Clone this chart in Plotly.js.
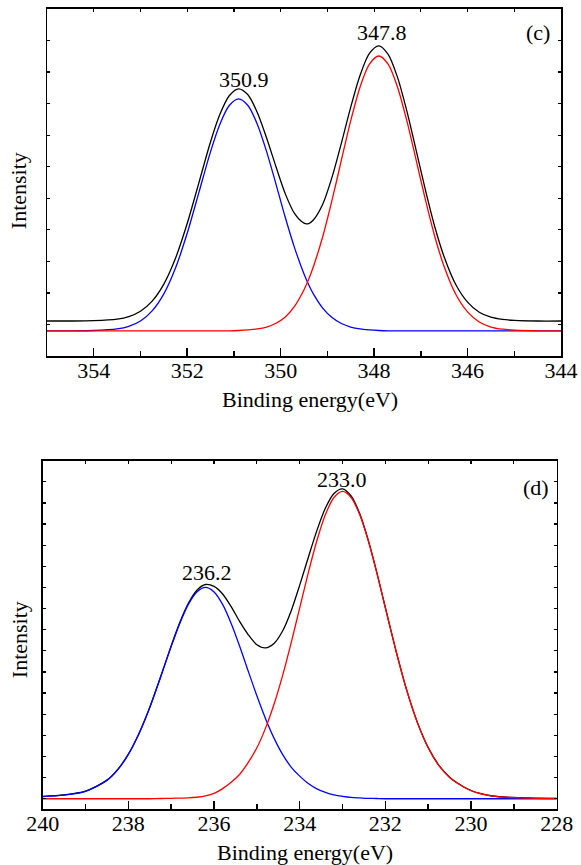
<!DOCTYPE html>
<html>
<head>
<meta charset="utf-8">
<script src="https://cdn.plot.ly/plotly-3.0.1.min.js"></script>
<style>
html,body{margin:0;padding:0;background:#ffffff;}
#chart{width:581px;height:865px;}
</style>
</head>
<body>
<div id="chart"></div>
<script>
// ---------- Panel (c) ----------
const energyC = [355, 354.5, 354, 353.5, 353.25, 353, 352.75, 352.5, 352.25, 352, 351.75, 351.5, 351.3, 351.1, 350.9, 350.7, 350.5, 350.3, 350.1, 349.9, 349.7, 349.5, 349.4, 349.3, 349.1, 348.9, 348.7, 348.5, 348.3, 348.1, 347.9, 347.7, 347.5, 347.3, 347.1, 346.9, 346.7, 346.5, 346.25, 346, 345.75, 345.5, 345.25, 345, 344.5, 344];
const envelopeC = [111, 111, 112, 117, 125, 142, 174, 228, 310, 420, 549, 679, 766, 825, 847, 828, 772, 691, 600, 514, 451, 421, 420, 431, 481, 567, 675, 789, 890, 959, 983, 956, 884, 777, 652, 525, 409, 314, 226, 171, 139, 123, 116, 113, 111, 111];
const peakHighC = [80, 80, 81, 86, 94, 111, 143, 197, 279, 389, 518, 648, 735, 794, 815, 794, 735, 648, 545, 439, 342, 260, 226, 197, 152, 122, 103, 92, 86, 83, 81, 80, 80, 80, 80, 80, 80, 80, 80, 80, 80, 80, 80, 80, 80, 80];
const peakLowC = [80, 80, 80, 80, 80, 80, 80, 80, 80, 80, 80, 80, 80, 80, 81, 83, 86, 92, 104, 124, 158, 210, 243, 283, 378, 494, 621, 746, 853, 925, 951, 925, 853, 746, 621, 494, 378, 283, 195, 140, 108, 92, 85, 82, 80, 80];
const tickValsC = [354, 352, 350, 348, 346, 344];
const minorValsC = [355, 353, 351, 349, 347, 345];
const edgeTicksC = [355, 354, 353, 352, 351, 350, 349, 348, 347, 346, 345, 344];
const peakLabelsC = ['350.9', '347.8'];

// ---------- Panel (d) ----------
const energyD = [240, 239.5, 239, 238.5, 238.25, 238, 237.75, 237.5, 237.25, 237, 236.8, 236.6, 236.4, 236.2, 236, 235.8, 235.6, 235.4, 235.2, 235, 234.8, 234.6, 234.4, 234.2, 234, 233.8, 233.6, 233.4, 233.2, 233, 232.8, 232.6, 232.4, 232.2, 232, 231.75, 231.5, 231.25, 231, 230.75, 230.5, 230.25, 230, 229.5, 229, 228.5, 228];
const envelopeD = [11, 18, 36, 88, 138, 211, 310, 433, 576, 724, 834, 925, 987, 1014, 1005, 969, 909, 838, 776, 729, 714, 735, 794, 889, 1011, 1142, 1269, 1376, 1445, 1467, 1433, 1350, 1224, 1071, 904, 699, 513, 360, 242, 158, 102, 66, 39, 13, 6, 3, 2];
const peakHighD = [10, 17, 35, 87, 137, 210, 309, 432, 574, 721, 830, 920, 979, 1000, 979, 920, 830, 721, 603, 487, 380, 287, 210, 150, 107, 72, 47, 30, 18, 11, 6, 4, 2, 1, 0, 0, 0, 0, 0, 0, 0, 0, 0, 0, 0, 0, 0];
const peakLowD = [0, 0, 0, 0, 0, 0, 0, 0, 1, 2, 3, 4, 7, 13, 25, 48, 78, 116, 172, 241, 333, 447, 583, 738, 903, 1069, 1221, 1345, 1426, 1455, 1426, 1345, 1221, 1069, 903, 698, 512, 359, 241, 157, 101, 65, 38, 12, 5, 2, 1];
const tickValsD = [240, 238, 236, 234, 232, 230, 228];
const minorValsD = [239, 237, 235, 233, 231, 229];
const edgeTicksD = [240, 239, 238, 237, 236, 235, 234, 233, 232, 231, 230, 229, 228];
const peakLabelsD = ['236.2', '233.0'];

const xTitle = 'Binding energy(eV)';
const yTitle = 'Intensity';

const FONT = 'Liberation Serif, Times New Roman, serif';
const AXC = '#000000';

function curve(x, y, color, xa, ya) {
  return {type: 'scatter', mode: 'lines', x: x, y: y, xaxis: xa, yaxis: ya,
          line: {color: color, width: 1.3, shape: 'spline', smoothing: 0.8},
          hoverinfo: 'skip', showlegend: false};
}
function empty(xa, ya) {
  return {type: 'scatter', mode: 'lines', x: [], y: [], xaxis: xa, yaxis: ya, showlegend: false, hoverinfo: 'skip'};
}

const data = [
  curve(energyC, envelopeC, '#000000', 'x', 'y'),
  curve(energyC, peakHighC, '#0000ff', 'x', 'y'),
  curve(energyC, peakLowC, '#ff0000', 'x', 'y'),
  curve(energyD, envelopeD, '#000000', 'x2', 'y2'),
  curve(energyD, peakHighD, '#0000ff', 'x2', 'y2'),
  curve(energyD, peakLowD, '#ff0000', 'x2', 'y2'),
  empty('x3', 'y'),
  empty('x4', 'y2')
];

function bottomAxis(domain, anchor, range, ticks, minors) {
  return {
    domain: domain, anchor: anchor, range: range, autorange: false,
    tickmode: 'array', tickvals: ticks, ticktext: ticks.map(String),
    ticks: 'inside', ticklen: 8, tickwidth: 1.5, tickcolor: AXC,
    ticklabelstandoff: -6,
    minor: {tickmode: 'array', tickvals: minors, ticks: 'inside', ticklen: 5, tickwidth: 1.5, tickcolor: AXC, showgrid: false},
    showline: true, linewidth: 1.5, linecolor: AXC, mirror: false,
    showgrid: false, zeroline: false, fixedrange: true,
    tickfont: {family: FONT, size: 22, color: '#000'}
  };
}
function topAxis(over, anchor, range, ticks) {
  return {
    overlaying: over, side: 'top', anchor: anchor, range: range, autorange: false,
    tickmode: 'array', tickvals: ticks, ticks: 'inside', ticklen: 3, tickwidth: 1.2, tickcolor: AXC,
    showticklabels: false, showline: true, linewidth: 1.5, linecolor: AXC,
    showgrid: false, zeroline: false, fixedrange: true
  };
}
function leftAxis(domain, anchor, range) {
  return {
    domain: domain, anchor: anchor, range: range, autorange: false,
    tick0: 0, dtick: 100, ticks: 'inside', ticklen: 3, tickwidth: 1.2, tickcolor: AXC,
    showticklabels: false, showline: true, linewidth: 1.5, linecolor: AXC, mirror: 'ticks',
    showgrid: false, zeroline: false, fixedrange: true
  };
}

function label(text, x, y, xa, ya) {
  return {text: text, x: x, y: y, xref: xa, yref: ya, showarrow: false,
          xanchor: 'center', yanchor: 'middle', font: {family: FONT, size: 22, color: '#000'}};
}
function paperText(text, x, y, angle) {
  return {text: text, x: x, y: y, xref: 'paper', yref: 'paper', showarrow: false,
          xanchor: 'center', yanchor: 'middle', textangle: angle,
          font: {family: FONT, size: 22, color: '#000'}};
}

const layout = {
  width: 581, height: 865, autosize: false,
  margin: {l: 0, r: 0, t: 0, b: 0, pad: 0},
  paper_bgcolor: '#ffffff', plot_bgcolor: '#ffffff',
  showlegend: false,
  font: {family: FONT, size: 22, color: '#000'},
  xaxis: bottomAxis([0.0809, 0.9656], 'y', [355, 344], tickValsC, minorValsC),
  xaxis3: topAxis('x', 'y', [355, 344], edgeTicksC),
  yaxis: leftAxis([0.5884, 0.9896], 'x', [0, 1100]),
  xaxis2: bottomAxis([0.0735, 0.9582], 'y2', [240, 228], tickValsD, minorValsD),
  xaxis4: topAxis('x2', 'y2', [240, 228], edgeTicksD),
  yaxis2: leftAxis([0.0644, 0.4674], 'x2', [-50, 1600]),
  annotations: [
    label(peakLabelsC[0], 350.79, 875, 'x', 'y'),
    label(peakLabelsC[1], 347.83, 1027, 'x', 'y'),
    label('(c)', 344.5, 1025, 'x', 'y'),
    label(peakLabelsD[0], 236.17, 1070, 'x2', 'y2'),
    label(peakLabelsD[1], 233.02, 1511, 'x2', 'y2'),
    label('(d)', 228.49, 1472, 'x2', 'y2'),
    paperText(xTitle, 0.5336, 0.5376, 0),
    paperText(xTitle, 0.5258, 0.0150, 0),
    paperText(yTitle, 0.0330, 0.7792, -90),
    paperText(yTitle, 0.0330, 0.2601, -90)
  ]
};

Plotly.newPlot('chart', data, layout, {staticPlot: true, displayModeBar: false});
</script>
</body>
</html>
